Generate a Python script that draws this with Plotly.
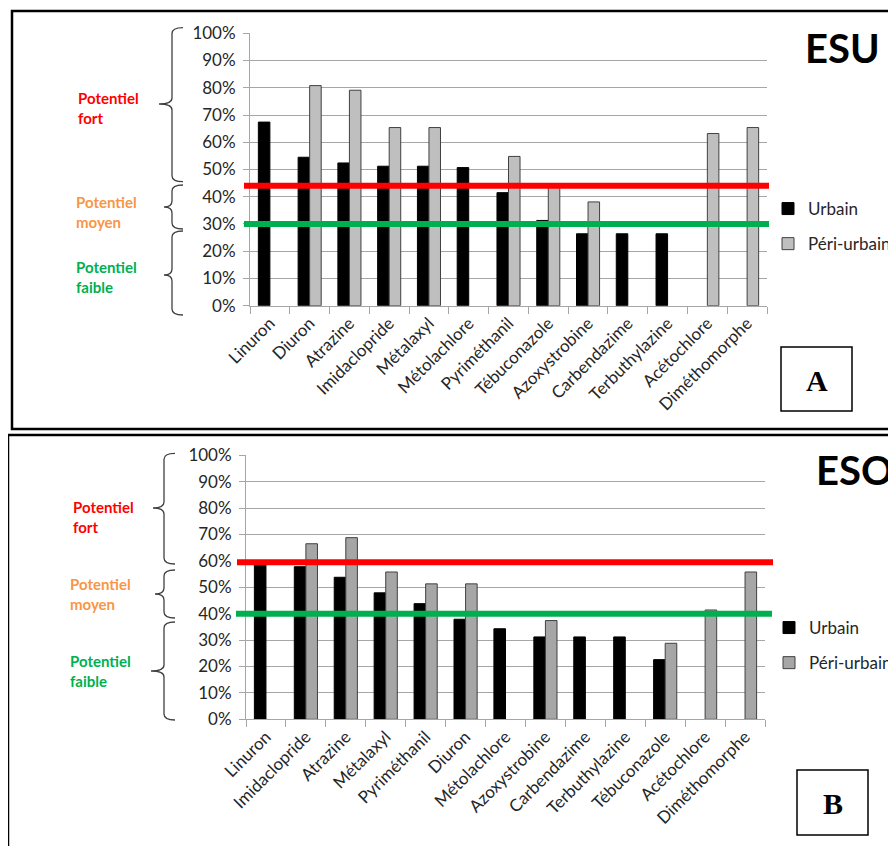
import plotly.graph_objects as go

# page has an 8px body margin, so the figure is drawn 8px smaller
OFF = 8
W, H = 896 - OFF, 846 - OFF

# --- data ---
esu_molecules = ['Linuron', 'Diuron', 'Atrazine', 'Imidaclopride', 'Métalaxyl',
                 'Métolachlore', 'Pyriméthanil', 'Tébuconazole', 'Azoxystrobine',
                 'Carbendazime', 'Terbuthylazine', 'Acétochlore', 'Diméthomorphe']
esu_urbain = [0.674, 0.545, 0.524, 0.512, 0.512, 0.507, 0.415, 0.313, 0.264,
              0.264, 0.264, None, None]
esu_periurbain = [None, 0.808, 0.791, 0.654, 0.654, None, 0.548, 0.445, 0.381,
                  None, None, 0.632, 0.654]
esu_seuil_fort = 0.44
esu_seuil_faible = 0.30

eso_molecules = ['Linuron', 'Imidaclopride', 'Atrazine', 'Métalaxyl', 'Pyriméthanil',
                 'Diuron', 'Métolachlore', 'Azoxystrobine', 'Carbendazime',
                 'Terbuthylazine', 'Tébuconazole', 'Acétochlore', 'Diméthomorphe']
eso_urbain = [0.588, 0.578, 0.538, 0.479, 0.438, 0.379, 0.343, 0.312, 0.312,
              0.312, 0.226, None, None]
eso_periurbain = [None, 0.665, 0.688, 0.558, 0.513, 0.513, None, 0.374, None,
                  None, 0.288, 0.414, 0.558]
eso_seuil_fort = 0.595
eso_seuil_faible = 0.40

potentiels = ['Potentiel<br>fort', 'Potentiel<br>moyen', 'Potentiel<br>faible']
potentiel_colors = ['#FF0000', '#F79646', '#00B050']


def px(x):
    return (x - OFF) / W


def py(y):
    return 1 - (y - OFF) / H


FONT = 'Lato'
TXT = '#262626'

fig = go.Figure()

fig.add_trace(go.Bar(x=esu_molecules, y=esu_urbain, name='Urbain', legendgroup='u1',
                     marker=dict(color='#000000', line=dict(color='#000000', width=1)),
                     xaxis='x', yaxis='y', legend='legend'))
fig.add_trace(go.Bar(x=esu_molecules, y=esu_periurbain, name='Péri-urbain', legendgroup='p1',
                     marker=dict(color='#BFBFBF', line=dict(color='#404040', width=1)),
                     xaxis='x', yaxis='y', legend='legend'))
fig.add_trace(go.Bar(x=eso_molecules, y=eso_urbain, name='Urbain', legendgroup='u2',
                     marker=dict(color='#000000', line=dict(color='#000000', width=1)),
                     xaxis='x2', yaxis='y2', legend='legend2'))
fig.add_trace(go.Bar(x=eso_molecules, y=eso_periurbain, name='Péri-urbain', legendgroup='p2',
                     marker=dict(color='#A6A6A6', line=dict(color='#404040', width=1)),
                     xaxis='x2', yaxis='y2', legend='legend2'))

xaxis_style = dict(showline=True, linecolor='#A6A6A6', linewidth=1, ticks='outside',
                   tickson='boundaries', ticklen=7, tickcolor='#A6A6A6',
                   tickangle=-45, showgrid=False,
                   tickfont=dict(family=FONT, size=17, color=TXT))
yaxis_style = dict(range=[0, 1], dtick=0.1, tickformat='.0%', showgrid=True,
                   gridcolor='#A6A6A6', gridwidth=1, showline=True,
                   linecolor='#A6A6A6', ticks='outside', ticklen=6,
                   tickcolor='#A6A6A6', zeroline=False, ticklabelstandoff=4,
                   tickfont=dict(family=FONT, size=17, color=TXT))

fig.update_layout(
    width=W, height=H, margin=dict(l=0, r=0, t=0, b=0, autoexpand=False),
    paper_bgcolor='white', plot_bgcolor='white',
    barmode='group', bargap=0.42, bargroupgap=0,
    xaxis=dict(domain=[px(250), px(767)], anchor='y', **xaxis_style),
    yaxis=dict(domain=[py(305.7), py(33.3)], anchor='x', **yaxis_style),
    xaxis2=dict(domain=[px(246), px(765)], anchor='y2', **xaxis_style),
    yaxis2=dict(domain=[py(719.3), py(455.3)], anchor='x2', **yaxis_style),
    legend=dict(x=px(768), y=py(191), xanchor='left', yanchor='top',
                font=dict(family=FONT, size=17, color=TXT), itemwidth=30,
                bgcolor='rgba(0,0,0,0)', tracegroupgap=10),
    legend2=dict(x=px(769), y=py(610), xanchor='left', yanchor='top',
                 font=dict(family=FONT, size=17, color=TXT), itemwidth=30,
                 bgcolor='rgba(0,0,0,0)', tracegroupgap=10),
)

shapes = []
# threshold lines
for yref, val, color, x0, x1 in [('y', esu_seuil_fort, '#FF0000', 244, 769),
                                 ('y', esu_seuil_faible, '#00B050', 244, 769),
                                 ('y2', eso_seuil_fort, '#FF0000', 237, 773),
                                 ('y2', eso_seuil_faible, '#00B050', 236, 772)]:
    shapes.append(dict(type='line', xref='paper', yref=yref, x0=px(x0), x1=px(x1),
                       y0=val, y1=val, line=dict(color=color, width=6)))

# panel frames
shapes.append(dict(type='rect', xref='paper', yref='paper', x0=px(12), x1=px(905),
                   y0=py(11), y1=py(429), line=dict(color='black', width=2.5)))
shapes.append(dict(type='rect', xref='paper', yref='paper', x0=px(8), x1=px(905),
                   y0=py(435), y1=py(860), line=dict(color='black', width=2.5)))
# letter boxes
shapes.append(dict(type='rect', xref='paper', yref='paper', x0=px(781), x1=px(852),
                   y0=py(347), y1=py(411), line=dict(color='black', width=1.5)))
shapes.append(dict(type='rect', xref='paper', yref='paper', x0=px(797), x1=px(868),
                   y0=py(770), y1=py(835), line=dict(color='black', width=1.5)))


def brace(xr, xv, xp, yt, ym, yb, r=6):
    pts = [
        ('M', [(xr, yt)]),
        ('Q', [(xv, yt), (xv, yt + r)]),
        ('L', [(xv, ym - r)]),
        ('Q', [(xv, ym), (xp, ym)]),
        ('Q', [(xv, ym), (xv, ym + r)]),
        ('L', [(xv, yb - r)]),
        ('Q', [(xv, yb), (xr, yb)]),
    ]
    path = ''
    for cmd, coords in pts:
        path += cmd + ' ' + ' '.join(f'{px(x):.5f},{py(y):.5f}' for x, y in coords) + ' '
    return dict(type='path', xref='paper', yref='paper', path=path.strip(),
                line=dict(color='#404040', width=1.3))


# braces: top panel
shapes.append(brace(183, 172, 159, 27.7, 104, 181.7))
shapes.append(brace(183, 172, 164, 185, 207, 229))
shapes.append(brace(183, 172, 164, 231, 275, 315))
# braces: bottom panel
shapes.append(brace(175, 164, 153, 453.3, 508, 564))
shapes.append(brace(175, 164, 155, 570, 594, 618))
shapes.append(brace(175, 164, 151, 622, 671, 720))

fig.update_layout(shapes=shapes)

annotations = []
for (x, y), label, color in zip([(76, 108), (74, 212), (74, 277)], potentiels, potentiel_colors):
    annotations.append(dict(xref='paper', yref='paper', x=px(x), y=py(y), xanchor='left',
                            yanchor='middle', align='left', showarrow=False,
                            text=f'<b>{label}</b>',
                            font=dict(family=FONT, size=15, color=color)))
for (x, y), label, color in zip([(71, 517), (68, 594), (68, 671)], potentiels, potentiel_colors):
    annotations.append(dict(xref='paper', yref='paper', x=px(x), y=py(y), xanchor='left',
                            yanchor='middle', align='left', showarrow=False,
                            text=f'<b>{label}</b>',
                            font=dict(family=FONT, size=15, color=color)))

annotations.append(dict(xref='paper', yref='paper', x=px(803), y=py(48), xanchor='left',
                        yanchor='middle', showarrow=False, text='<b>ESU</b>',
                        font=dict(family=FONT, size=40, color='black')))
annotations.append(dict(xref='paper', yref='paper', x=px(814), y=py(470), xanchor='left',
                        yanchor='middle', showarrow=False, text='<b>ESO</b>',
                        font=dict(family=FONT, size=40, color='black')))
annotations.append(dict(xref='paper', yref='paper', x=px(816.5), y=py(380), xanchor='center',
                        yanchor='middle', showarrow=False, text='<b>A</b>',
                        font=dict(family='Liberation Serif', size=30, color='black')))
annotations.append(dict(xref='paper', yref='paper', x=px(832.5), y=py(803), xanchor='center',
                        yanchor='middle', showarrow=False, text='<b>B</b>',
                        font=dict(family='Liberation Serif', size=30, color='black')))

fig.update_layout(annotations=annotations)

fig.write_html('out.html')
